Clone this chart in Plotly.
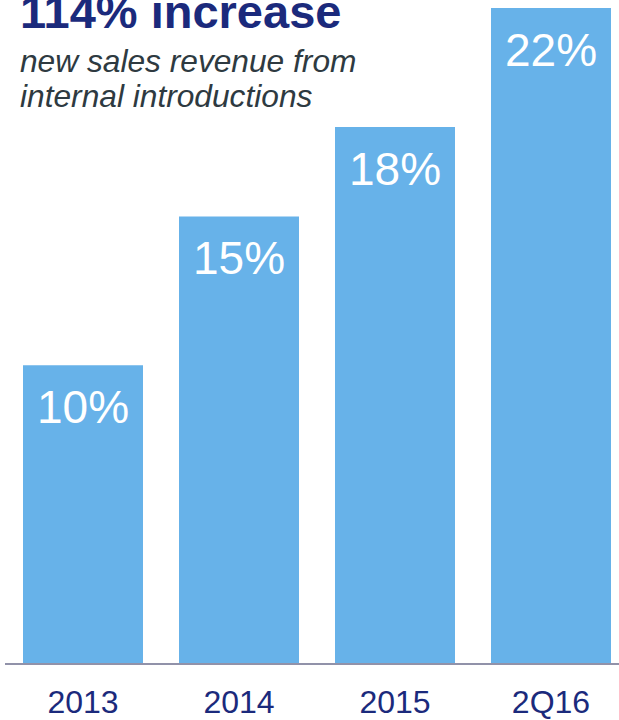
import plotly.graph_objects as go

# Share of new sales revenue coming from internally introduced products
periods = ["2013", "2014", "2015", "2Q16"]
share_pct = [10, 15, 18, 22]
bar_labels = ["10%", "15%", "18%", "22%"]

title_text = "114% increase"
subtitle_lines = ["new sales revenue from", "internal introductions"]

W, H = 619, 720
M_L, M_R, M_T, M_B = 5, 0, 0, 54
PLOT_H = H - M_T - M_B
Y_MAX = 22.27

BAR_BLUE = "#67B2E9"
NAVY = "#1B2A7C"
SUB_GREY = "#2E3A41"
AXIS_GREY = "#9192A9"
FONT = "Liberation Sans, Arial, sans-serif"


def py(pixel_y):
    """Convert a pixel row (from the top of the page) into paper y."""
    return 1 - (pixel_y - M_T) / PLOT_H


def px(pixel_x):
    return (pixel_x - M_L) / (W - M_L - M_R)


fig = go.Figure(
    go.Bar(
        x=periods,
        y=share_pct,
        marker=dict(color=BAR_BLUE, line=dict(width=0)),
        hoverinfo="skip",
    )
)

# value labels inside the top of each bar (x given as category index)
for i, (v, lab) in enumerate(zip(share_pct, bar_labels)):
    fig.add_annotation(
        x=i, y=v, xref="x", yref="y",
        text=lab, showarrow=False,
        xanchor="center", yanchor="top", yshift=-14,
        font=dict(family=FONT, size=46, color="white"),
    )

# heading and subheading in the upper left
fig.add_annotation(
    x=px(18), y=py(40), xref="paper", yref="paper",
    text=f"<b>{title_text}</b>", showarrow=False,
    xanchor="left", yanchor="bottom",
    font=dict(family=FONT, size=47, color=NAVY),
)
for i, line in enumerate(subtitle_lines):
    fig.add_annotation(
        x=px(18), y=py(81 + 36 * i), xref="paper", yref="paper",
        text=f"<i>{line}</i>", showarrow=False,
        xanchor="left", yanchor="bottom",
        font=dict(family=FONT, size=31.7, color=SUB_GREY),
    )

fig.update_layout(
    width=W, height=H,
    margin=dict(l=M_L, r=M_R, t=M_T, b=M_B, pad=0),
    paper_bgcolor="white", plot_bgcolor="white",
    bargap=36 / 156,
    showlegend=False,
    xaxis=dict(
        type="category",
        range=[-0.5, -0.5 + (W - M_L - M_R) / 156],
        showgrid=False, zeroline=False,
        showline=True, linecolor=AXIS_GREY, linewidth=2,
        ticks="", ticklabelstandoff=10,
        tickfont=dict(family=FONT, size=32, color=NAVY),
        fixedrange=True,
    ),
    yaxis=dict(
        range=[0, Y_MAX], visible=False, fixedrange=True,
    ),
)

fig.write_html("out.html")
